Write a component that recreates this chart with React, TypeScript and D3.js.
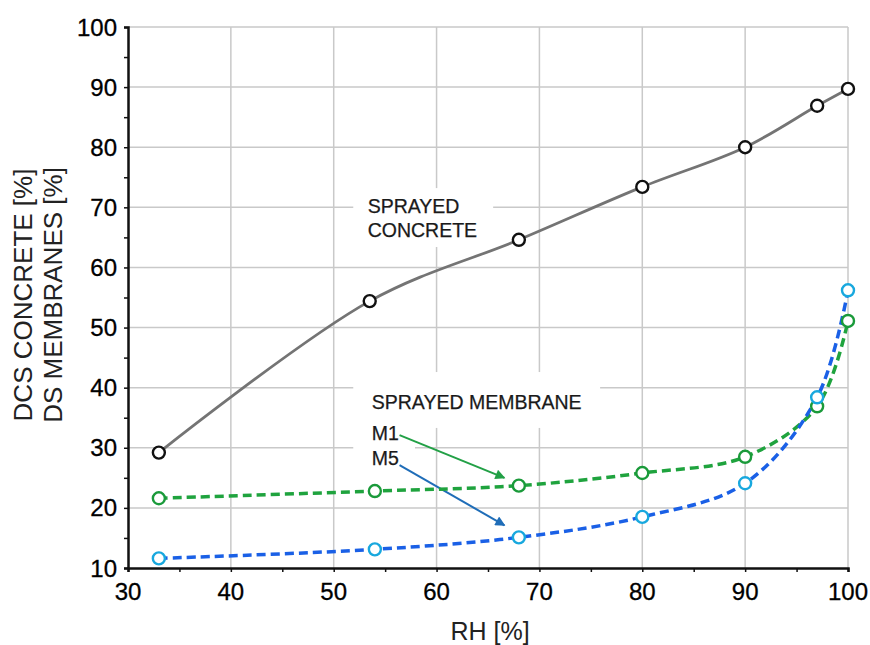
import { useEffect, useRef } from "react";
import * as d3 from "d3";

// Relative humidity positions of the measurements
const rhConcrete = [33, 53.5, 68, 80, 90, 97, 100];
const rhMembrane = [33, 54, 68, 80, 90, 97, 100];

// Series values [%]
const concrete = [29.2, 54.4, 64.6, 73.4, 80.0, 86.9, 89.7];
const m1 = [21.6, 22.8, 23.7, 25.8, 28.5, 36.9, 51.1];
const m5 = [11.6, 13.1, 15.1, 18.5, 24.1, 38.4, 56.2];

// Tick labels
const xTicks = [30, 40, 50, 60, 70, 80, 90, 100];
const yTicks = [10, 20, 30, 40, 50, 60, 70, 80, 90, 100];

const FONT = "'Liberation Sans', Arial, Helvetica, sans-serif";

export default function App() {
  const ref = useRef<SVGSVGElement | null>(null);

  useEffect(() => {
    if (!ref.current) return;
    const width = 870;
    const height = 645;
    const margin = { top: 27, right: 22, bottom: 77, left: 128 };

    const svg = d3.select(ref.current);
    svg.selectAll("*").remove();

    const x = d3.scaleLinear().domain([30, 100]).range([margin.left, width - margin.right]);
    const y = d3.scaleLinear().domain([10, 100]).range([height - margin.bottom, margin.top]);

    const defs = svg.append("defs");
    const arrowHead = (id: string, color: string) =>
      defs.append("marker")
        .attr("id", id)
        .attr("viewBox", "0 0 10 10")
        .attr("refX", 9)
        .attr("refY", 5)
        .attr("markerWidth", 6)
        .attr("markerHeight", 5)
        .attr("markerUnits", "strokeWidth")
        .attr("orient", "auto")
        .append("path")
        .attr("d", "M0,0 L10,5 L0,10 Z")
        .attr("fill", color);
    arrowHead("arrow-m1", "#22a046");
    arrowHead("arrow-m5", "#1f6db8");

    // Grid
    const grid = svg.append("g").attr("stroke", "#c9c9c9").attr("stroke-width", 1.5);
    grid.selectAll("line.h")
      .data(yTicks.slice(1))
      .enter()
      .append("line")
      .attr("x1", x(30))
      .attr("x2", x(100))
      .attr("y1", d => y(d))
      .attr("y2", d => y(d));
    grid.selectAll("line.v")
      .data(xTicks.slice(1))
      .enter()
      .append("line")
      .attr("x1", d => x(d))
      .attr("x2", d => x(d))
      .attr("y1", y(10))
      .attr("y2", y(100));

    // White boxes behind the annotations
    const boxes = [
      [51.9, 65.5, 73.2, 63.4],
      [51.9, 75.9, 42.6, 33.3],
      [51.9, 57.9, 33.3, 26.3],
    ];
    svg.append("g")
      .selectAll("rect")
      .data(boxes)
      .enter()
      .append("rect")
      .attr("x", d => x(d[0]))
      .attr("width", d => x(d[1]) - x(d[0]))
      .attr("y", d => y(d[2]))
      .attr("height", d => y(d[3]) - y(d[2]))
      .attr("fill", "#fff");

    // Axes
    const xAxis = d3.axisBottom(x)
      .tickValues(d3.range(30, 101, 5))
      .tickSize(4)
      .tickFormat(() => "");
    svg.append("g")
      .attr("transform", `translate(0,${y(10)})`)
      .call(xAxis)
      .call(g => g.select(".domain").attr("stroke", "#111").attr("stroke-width", 2.5))
      .call(g => g.selectAll(".tick line").attr("stroke", "#111").attr("stroke-width", 1.5));

    const yAxis = d3.axisLeft(y)
      .tickValues(d3.range(10, 101, 5))
      .tickSize(4)
      .tickFormat(() => "");
    svg.append("g")
      .attr("transform", `translate(${x(30)},0)`)
      .call(yAxis)
      .call(g => g.select(".domain").attr("stroke", "#111").attr("stroke-width", 2.5))
      .call(g => g.selectAll(".tick line").attr("stroke", "#111").attr("stroke-width", 1.5));

    // Tick labels
    svg.append("g")
      .selectAll("text")
      .data(xTicks)
      .enter()
      .append("text")
      .attr("x", d => x(d))
      .attr("y", y(10) + 32)
      .attr("text-anchor", "middle")
      .attr("font-family", FONT)
      .attr("font-size", 24)
      .attr("fill", "#000")
      .attr("stroke", "#000")
      .attr("stroke-width", 0.3)
      .text(d => d);
    svg.append("g")
      .selectAll("text")
      .data(yTicks)
      .enter()
      .append("text")
      .attr("x", x(30) - 11)
      .attr("y", d => y(d) + 8.5)
      .attr("text-anchor", "end")
      .attr("font-family", FONT)
      .attr("font-size", 24)
      .attr("fill", "#000")
      .attr("stroke", "#000")
      .attr("stroke-width", 0.3)
      .text(d => d);

    // Axis titles
    svg.append("text")
      .attr("x", 490)
      .attr("y", 640)
      .attr("text-anchor", "middle")
      .attr("font-family", FONT)
      .attr("font-size", 25)
      .attr("fill", "#222")
      .text("RH [%]");
    const yTitle = svg.append("text")
      .attr("transform", "translate(0,295) rotate(-90)")
      .attr("text-anchor", "middle")
      .attr("font-family", FONT)
      .attr("font-size", 26)
      .attr("fill", "#222");
    yTitle.append("tspan").attr("x", 0).attr("y", 32).text("DCS CONCRETE [%]");
    yTitle.append("tspan").attr("x", 0).attr("y", 62).text("DS MEMBRANES [%]");

    // Annotations
    const notes = [
      { t: "SPRAYED", rx: 53.3, ry: 69.05 },
      { t: "CONCRETE", rx: 53.3, ry: 65.05 },
      { t: "SPRAYED MEMBRANE", rx: 53.7, ry: 36.4 },
      { t: "M1", rx: 53.7, ry: 31.3 },
      { t: "M5", rx: 53.7, ry: 27.1 },
    ];
    svg.append("g")
      .selectAll("text")
      .data(notes)
      .enter()
      .append("text")
      .attr("x", d => x(d.rx))
      .attr("y", d => y(d.ry))
      .attr("font-family", FONT)
      .attr("font-size", 19.5)
      .attr("fill", "#1a1a1a")
      .attr("stroke", "#1a1a1a")
      .attr("stroke-width", 0.25)
      .text(d => d.t);

    // Arrows
    svg.append("line")
      .attr("x1", x(56.4)).attr("y1", y(32.1))
      .attr("x2", x(66.6)).attr("y2", y(25.0))
      .attr("stroke", "#22a046")
      .attr("stroke-width", 2)
      .attr("marker-end", "url(#arrow-m1)");
    svg.append("line")
      .attr("x1", x(56.4)).attr("y1", y(27.1))
      .attr("x2", x(66.6)).attr("y2", y(17.1))
      .attr("stroke", "#1f6db8")
      .attr("stroke-width", 2)
      .attr("marker-end", "url(#arrow-m5)");

    const series = [
      { xs: rhConcrete, ys: concrete, line: "#747474", width: 2.8, dash: null, mark: "#111" },
      { xs: rhMembrane, ys: m1, line: "#1fa33e", width: 3.5, dash: "9,5", mark: "#1a9a3a" },
      { xs: rhMembrane, ys: m5, line: "#1a60e6", width: 3.5, dash: "9,5", mark: "#18a8de" },
    ];

    series.forEach(s => {
      const pts = s.xs.map((v, i) => [v, s.ys[i]] as [number, number]);
      const line = d3.line<[number, number]>()
        .x(d => x(d[0]))
        .y(d => y(d[1]))
        .curve(d3.curveCatmullRom.alpha(0.5));
      svg.append("path")
        .datum(pts)
        .attr("fill", "none")
        .attr("stroke", s.line)
        .attr("stroke-width", s.width)
        .attr("stroke-dasharray", s.dash)
        .attr("d", line);
    });

    series.forEach(s => {
      svg.append("g")
        .selectAll("circle")
        .data(s.xs.map((v, i) => [v, s.ys[i]]))
        .enter()
        .append("circle")
        .attr("cx", d => x(d[0]))
        .attr("cy", d => y(d[1]))
        .attr("r", 6)
        .attr("fill", "#fff")
        .attr("stroke", s.mark)
        .attr("stroke-width", 2.4);
    });
  }, []);

  return (
    <svg
      ref={ref}
      width={870}
      height={645}
      style={{ position: "absolute", left: 0, top: 0, background: "#fff" }}
    />
  );
}
